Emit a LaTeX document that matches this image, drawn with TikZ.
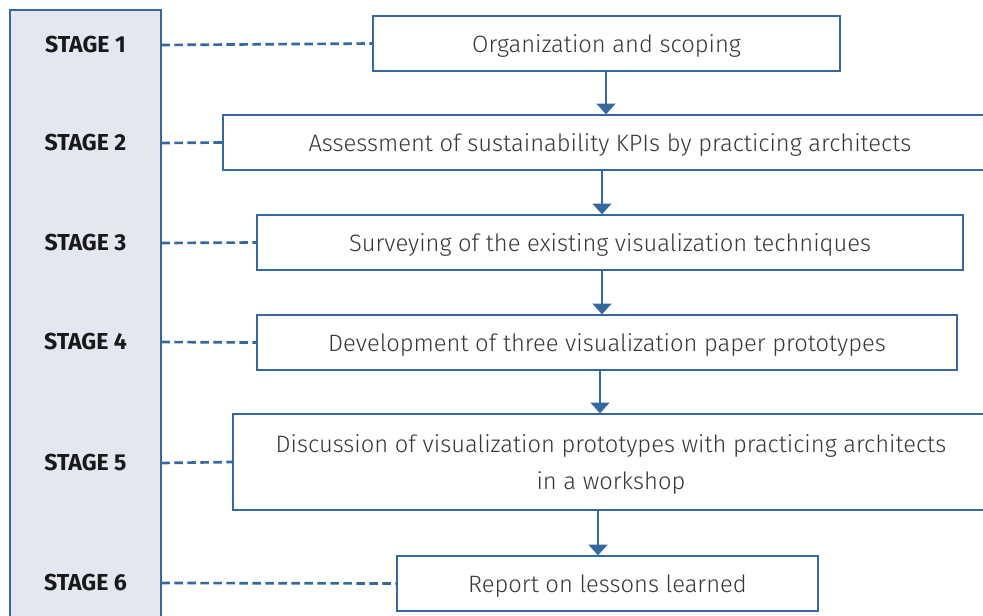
\documentclass[tikz,border=0pt]{standalone}
\usepackage{fontspec}
\setmainfont{Fira Sans}[UprightFont=* Light, BoldFont=* Bold]
\usetikzlibrary{arrows.meta}
\definecolor{lineblue}{RGB}{54,104,160}
\definecolor{panelfill}{RGB}{228,231,240}
\definecolor{txtgray}{RGB}{55,55,55}
\begin{document}
\begin{tikzpicture}[x=0.75pt,y=-0.75pt]
			\tikzset{stage/.style = {minimum width=113.25pt, minimum height=30pt, inner sep=0pt, text height=11.9pt, text depth=0pt, font=\bfseries\fontsize{17.3}{18}\selectfont, text=black!90}}
			\tikzset{task/.style = {draw=lineblue, line width=1pt, fill=white, inner sep=0pt, font=\fontsize{17.8}{27.75}\selectfont, text=txtgray, align=center}}
			\tikzset{oneline/.style = {text height=12.75pt, text depth=0pt, minimum height=41.25pt}}
			\tikzset{link/.style = {draw=lineblue, line width=2pt, dash pattern=on 6.5pt off 3.25pt}}
			\tikzset{flow/.style = {draw=lineblue, line width=1.5pt, -{Triangle[width=14pt,length=8pt]}}}
			\useasboundingbox (0,0) rectangle (983,615);
			% Stage column
			\fill[panelfill, draw=lineblue, line width=1pt] (10,10) rectangle (161,640);
			\node[stage] (s1) at (85.5,45) {STAGE 1};
			\node[stage] (s2) at (85.5,143) {STAGE 2};
			\node[stage] (s3) at (85.5,243) {STAGE 3};
			\node[stage] (s4) at (85.5,342) {STAGE 4};
			\node[stage] (s5) at (85.5,463) {STAGE 5};
			\node[stage] (s6) at (85.5,583) {STAGE 6};
			% Process boxes
			\node[task, oneline, minimum width=350.25pt] (b1) at (606.5,43.5) {Organization and scoping};
			\node[task, oneline, minimum width=580.5pt] (b2) at (610,142.5) {Assessment of sustainability KPIs by practicing architects};
			\node[task, oneline, minimum width=529.5pt] (b3) at (610,242.5) {Surveying of the existing visualization techniques};
			\node[task, oneline, minimum width=525pt] (b4) at (607,342.5) {Development of three visualization paper prototypes};
			\node[task, text depth=0pt, minimum width=567pt, minimum height=72pt] (b5) at (611,462) {Discussion of visualization prototypes with practicing architects\\in a workshop};
			\node[task, oneline, minimum width=315.75pt] (b6) at (607.5,583.5) {Report on lessons learned};
			% Dashed links
			\draw[link] (s1.east) -- (b1.west);
			\draw[link] (s2.east) -- (b2.west);
			\draw[link] (s3.east) -- (b3.west);
			\draw[link] (s4.east) -- (b4.west);
			\draw[link] (s5.east) -- (b5.west);
			\draw[link] (s6.east) -- (b6.west);
			% Arrows
			\draw[flow] (606,0 |- b1.south) -- (606,0 |- b2.north);
			\draw[flow] (602,0 |- b2.south) -- (602,0 |- b3.north);
			\draw[flow] (602,0 |- b3.south) -- (602,0 |- b4.north);
			\draw[flow] (600,0 |- b4.south) -- (600,0 |- b5.north);
			\draw[flow] (598,0 |- b5.south) -- (598,0 |- b6.north);
		\end{tikzpicture}
\end{document}
